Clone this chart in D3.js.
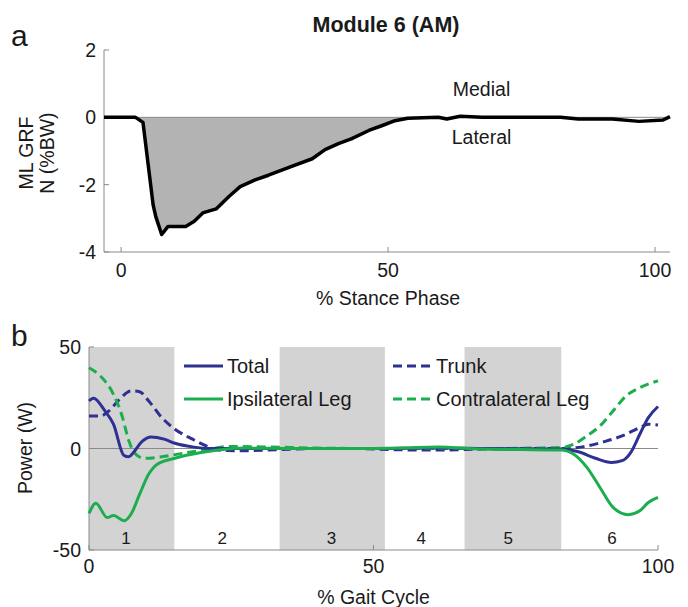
<!DOCTYPE html>
<html><head><meta charset="utf-8">
<script src="https://cdn.jsdelivr.net/npm/d3@7"></script>
<style>
body{margin:0;background:#fff;}
text{font-family:"Liberation Sans",Arial,Helvetica,sans-serif;fill:#1a1a1a;}
</style></head>
<body><svg id="c" width="688" height="607"></svg>
<script>
// ---- Panel a: ML GRF (x = % stance, y = N %BW)
const grfX = [-3.2,0,2.7,4.1,6.0,6.5,7.6,8.8,10,12.1,13.7,15.3,17.8,20.2,22.3,25.1,27.6,31.7,35.8,38.2,40.7,43.1,46.4,48.8,51.3,53.7,59.4,61,63.5,67.6,82.3,85.6,92,97,101.5,102.8];
const grfY = [0,0,0,-0.15,-2.6,-2.95,-3.48,-3.24,-3.24,-3.24,-3.09,-2.84,-2.72,-2.35,-2.06,-1.86,-1.72,-1.47,-1.23,-0.96,-0.78,-0.64,-0.39,-0.25,-0.1,-0.03,0,-0.05,0.03,0,0,-0.05,-0.05,-0.12,-0.08,0.02];
const grfYTicks = [2,0,-2,-4];
const grfXTicks = [0,50,100];

// ---- Panel b: power (x = % gait cycle, y = W)
const totalX = [0,0.8,2.8,4.3,6.1,7.0,7.8,9.3,10.9,13.2,15.1,18.2,21.3,30,40,50,60,70,80,83,86,89,91.8,93.7,95.2,96.8,98.3,100];
const totalY = [23.4,24.8,18.5,12,-3.3,-4.1,-2,3.4,5.7,4.6,2.6,0.8,0,0,0,0,0.3,0,-0.2,-0.3,-1.6,-4.8,-6.9,-6,-2,7,15.2,20.7];
const trunkX = [0,2,3.5,5.1,7.4,8.9,10.5,12.8,15.1,18.2,21.3,22.8,27.4,33.6,40,47,53.6,61.3,69,76,83,86.7,90.6,93.7,96.8,98.3,100];
const trunkY = [16,16,18.5,23.4,28.4,28,23.4,15.2,9.5,4.6,0.5,-0.8,-1.1,-0.5,0,0,-0.6,-0.8,-0.3,0,0,0.8,3.4,6.2,10.3,12,11.6];
const ipsiX = [0,1.2,3.2,4.3,6.2,7.4,8.9,10.5,12,15.1,19.7,24.3,27.4,35,45,55,61.3,69,76,82.9,85.2,87.5,89.8,92.1,94.8,96.8,98.3,100];
const ipsiY = [-32,-27,-34,-33,-35.6,-32.3,-22.5,-12.6,-7.7,-4.8,-2,-0.3,0.2,0,0,0.3,0.8,-0.3,-0.5,-0.8,-2.8,-9.3,-19.2,-29,-32.6,-30.7,-26.6,-24.1];
const contraX = [0,2,4.3,5.9,7.0,8.2,9.7,12.8,16.6,21.3,24.3,30.5,40,50,60,70,80,83,85.2,87.5,89.8,92.1,94.4,96.8,100];
const contraY = [39.8,35.7,26.7,15.2,3.8,-2.8,-4.8,-4.1,-2.3,-0.3,1,0.8,0.2,0,0,0,0.3,0.5,2.1,6.2,11.1,18.5,25.9,30,33.3];
const bands = [[0,15],[33.5,52],[66,83]];
const phaseLabels = ["1","2","3","4","5","6"];
const phaseX = [6.5,23.4,42.6,58.4,73.7,91.9];
const powYTicks = [50,0,-50];
const powXTicks = [0,50,100];
const seriesNames = ["Total","Trunk","Ipsilateral Leg","Contralateral Leg"];

const BLUE = "#2e3192", GREEN = "#1cad4e";
const FS = 19.5;
const svg = d3.select("#c");

// ================= Panel a =================
const xa = d3.scaleLinear().domain([-3.2,102.8]).range([104,670]);
const ya = d3.scaleLinear().domain([-4,2]).range([252,50]);

svg.append("text").attr("x",386).attr("y",32).attr("text-anchor","middle")
  .attr("font-size",21.5).attr("font-weight","bold").text("Module 6 (AM)");
svg.append("text").attr("x",11).attr("y",46).attr("font-size",30).text("a");

const grfPts = grfX.map((x,i)=>[x,grfY[i]]);
const fillPts = grfPts.filter(p=>p[0]>=2.7 && p[0]<=59.4);
svg.append("path").datum(fillPts)
  .attr("d", d3.area().x(d=>xa(d[0])).y0(ya(0)).y1(d=>ya(Math.min(0,d[1]))))
  .attr("fill","#b3b3b3");
svg.append("line").attr("x1",104).attr("x2",670).attr("y1",ya(0)).attr("y2",ya(0))
  .attr("stroke","#8a8a8a").attr("stroke-width",1);

const axA = svg.append("g");
axA.append("line").attr("x1",104).attr("x2",104).attr("y1",50).attr("y2",252).attr("stroke","#8a8a8a");
axA.append("line").attr("x1",104).attr("x2",670).attr("y1",252).attr("y2",252).attr("stroke","#8a8a8a");
grfYTicks.forEach(t=>{
  axA.append("line").attr("x1",104).attr("x2",109).attr("y1",ya(t)).attr("y2",ya(t)).attr("stroke","#8a8a8a");
  axA.append("text").attr("x",96).attr("y",ya(t)+7).attr("text-anchor","end").attr("font-size",FS).text(t);
});
grfXTicks.forEach(t=>{
  axA.append("line").attr("x1",xa(t)).attr("x2",xa(t)).attr("y1",252).attr("y2",247).attr("stroke","#8a8a8a");
  axA.append("text").attr("x",xa(t)).attr("y",277).attr("text-anchor","middle").attr("font-size",FS).text(t);
});
svg.append("text").attr("x",xa(50)).attr("y",305).attr("text-anchor","middle").attr("font-size",FS).text("% Stance Phase");
svg.append("text").attr("transform","translate(33,153) rotate(-90)").attr("text-anchor","middle").attr("font-size",FS).text("ML GRF");
svg.append("text").attr("transform","translate(54,153) rotate(-90)").attr("text-anchor","middle").attr("font-size",FS).text("N (%BW)");
svg.append("text").attr("x",xa(67.5)).attr("y",96).attr("text-anchor","middle").attr("font-size",FS).text("Medial");
svg.append("text").attr("x",xa(67.5)).attr("y",144).attr("text-anchor","middle").attr("font-size",FS).text("Lateral");

svg.append("path").datum(grfPts)
  .attr("d", d3.line().x(d=>xa(d[0])).y(d=>ya(d[1])))
  .attr("fill","none").attr("stroke","#000").attr("stroke-width",3.5).attr("stroke-linejoin","round");

// ================= Panel b =================
const xb = d3.scaleLinear().domain([0,100]).range([89,658]);
const yb = d3.scaleLinear().domain([-50,50]).range([550,347]);

svg.append("text").attr("x",11).attr("y",346).attr("font-size",30).text("b");

bands.forEach(b=>{
  svg.append("rect").attr("x",xb(b[0])).attr("y",yb(50)).attr("width",xb(b[1])-xb(b[0]))
    .attr("height",yb(-50)-yb(50)).attr("fill","#d3d3d3");
});
svg.append("line").attr("x1",xb(0)).attr("x2",xb(100)).attr("y1",yb(0)).attr("y2",yb(0))
  .attr("stroke","#8a8a8a").attr("stroke-width",1);

const axB = svg.append("g");
axB.append("line").attr("x1",89).attr("x2",89).attr("y1",347).attr("y2",550).attr("stroke","#8a8a8a");
axB.append("line").attr("x1",89).attr("x2",658).attr("y1",550).attr("y2",550).attr("stroke","#8a8a8a");
powYTicks.forEach(t=>{
  axB.append("line").attr("x1",89).attr("x2",94).attr("y1",yb(t)).attr("y2",yb(t)).attr("stroke","#8a8a8a");
  axB.append("text").attr("x",81).attr("y",yb(t)+7).attr("text-anchor","end").attr("font-size",FS).text(t);
});
powXTicks.forEach(t=>{
  axB.append("line").attr("x1",xb(t)).attr("x2",xb(t)).attr("y1",550).attr("y2",545).attr("stroke","#8a8a8a");
  axB.append("text").attr("x",xb(t)).attr("y",573).attr("text-anchor","middle").attr("font-size",FS).text(t);
});
svg.append("text").attr("x",xb(50)).attr("y",604).attr("text-anchor","middle").attr("font-size",FS).text("% Gait Cycle");
svg.append("text").attr("transform","translate(32,448) rotate(-90)").attr("text-anchor","middle").attr("font-size",FS).text("Power (W)");

phaseLabels.forEach((l,i)=>{
  svg.append("text").attr("x",xb(phaseX[i])).attr("y",yb(-44)+6).attr("text-anchor","middle").attr("font-size",17).text(l);
});

const lineB = d3.line().x(d=>xb(d[0])).y(d=>yb(d[1])).curve(d3.curveMonotoneX);
const series = [
  {x:trunkX,y:trunkY,c:BLUE,dash:"9,5"},
  {x:contraX,y:contraY,c:GREEN,dash:"9,5"},
  {x:totalX,y:totalY,c:BLUE,dash:null},
  {x:ipsiX,y:ipsiY,c:GREEN,dash:null}
];
series.forEach(s=>{
  svg.append("path").datum(s.x.map((x,i)=>[x,s.y[i]]))
    .attr("d",lineB).attr("fill","none").attr("stroke",s.c).attr("stroke-width",3)
    .attr("stroke-dasharray",s.dash);
});

// legend
const leg = [
  {name:seriesNames[0],c:BLUE,dash:null,x:184,y:366},
  {name:seriesNames[1],c:BLUE,dash:"9,5",x:393,y:366},
  {name:seriesNames[2],c:GREEN,dash:null,x:184,y:399},
  {name:seriesNames[3],c:GREEN,dash:"9,5",x:393,y:399}
];
leg.forEach(l=>{
  svg.append("line").attr("x1",l.x).attr("x2",l.x+39).attr("y1",l.y).attr("y2",l.y)
    .attr("stroke",l.c).attr("stroke-width",3).attr("stroke-dasharray",l.dash);
  svg.append("text").attr("x",l.x+43).attr("y",l.y+7).attr("font-size",20).text(l.name);
});
</script></body></html>
